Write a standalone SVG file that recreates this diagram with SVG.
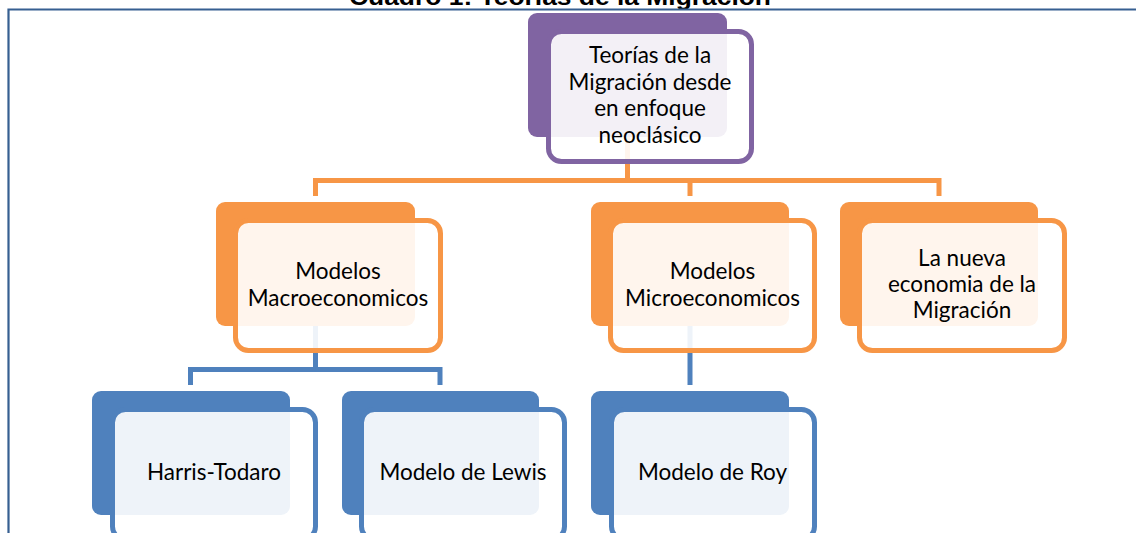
<svg xmlns="http://www.w3.org/2000/svg" width="1136" height="533" viewBox="0 0 1136 533">
<style>
.t{font-family:Lato,"Open Sans","Liberation Sans",sans-serif;font-size:22.5px;fill:#000;text-anchor:middle}
.title{font-family:"Liberation Sans",Arial,sans-serif;font-weight:bold;font-size:24px;fill:#000;text-anchor:middle}
.bp{fill:#8064A2}.fp{fill:#fff;fill-opacity:0.9;stroke:#8064A2;stroke-width:5}
.bo{fill:#F79646}.fo{fill:#fff;fill-opacity:0.9;stroke:#F79646;stroke-width:5}
.bb{fill:#4F81BD}.fb{fill:#fff;fill-opacity:0.9;stroke:#4F81BD;stroke-width:5}
.co{fill:none;stroke:#F79646;stroke-width:5}
.cb{fill:none;stroke:#4F81BD;stroke-width:5}
</style>
<rect width="1136" height="533" fill="#fff"/>
<text class="title" x="560" y="5" textLength="422" lengthAdjust="spacingAndGlyphs">Cuadro 1: Teorías de la Migración</text>
<path d="M8.5 533 V9.5 H1136" fill="none" stroke="#365F91" stroke-width="2.2"/>
<g id="connectors">
<path class="co" d="M627.5 137 V180.5 H315.5 V196"/>
<path class="co" d="M627.5 180.5 H690 V196"/>
<path class="co" d="M690 180.5 H939 V196"/>
<path class="cb" d="M315.5 326 V369.5 H190.5 V385"/>
<path class="cb" d="M315.5 369.5 H440 V385"/>
<path class="cb" d="M690 326 V385"/>
</g>
<g id="n-teorias">
<rect class="bp" x="528" y="13" width="199" height="124" rx="9"/>
<rect class="fp" x="548.5" y="31.5" width="203" height="130" rx="13"/>
<text class="t" x="650" y="63">Teorías de la</text>
<text class="t" x="650" y="89.5">Migración desde</text>
<text class="t" x="650" y="116">en enfoque</text>
<text class="t" x="650" y="142.5">neoclásico</text>
</g>
<g id="n-macro">
<rect class="bo" x="216" y="202" width="199" height="124" rx="9"/>
<rect class="fo" x="235.5" y="220.5" width="205" height="130" rx="13"/>
<text class="t" x="338" y="279">Modelos</text>
<text class="t" x="338" y="306">Macroeconomicos</text>
</g>
<g id="n-micro">
<rect class="bo" x="591" y="202" width="198" height="124" rx="9"/>
<rect class="fo" x="610.5" y="220.5" width="204" height="130" rx="13"/>
<text class="t" x="712.5" y="279">Modelos</text>
<text class="t" x="712.5" y="306">Microeconomicos</text>
</g>
<g id="n-nueva">
<rect class="bo" x="840" y="202" width="198" height="124" rx="9"/>
<rect class="fo" x="859.5" y="220.5" width="205" height="130" rx="13"/>
<text class="t" x="962" y="266">La nueva</text>
<text class="t" x="962" y="292">economia de la</text>
<text class="t" x="962" y="318">Migración</text>
</g>
<g id="n-harris">
<rect class="bb" x="92" y="391" width="198" height="124" rx="9"/>
<rect class="fb" x="112.5" y="409.5" width="203" height="130" rx="13"/>
<text class="t" x="214" y="480">Harris-Todaro</text>
</g>
<g id="n-lewis">
<rect class="bb" x="342" y="391" width="197" height="124" rx="9"/>
<rect class="fb" x="361.5" y="409.5" width="203" height="130" rx="13"/>
<text class="t" x="463" y="480">Modelo de Lewis</text>
</g>
<g id="n-roy">
<rect class="bb" x="591" y="391" width="198" height="124" rx="9"/>
<rect class="fb" x="611.5" y="409.5" width="203" height="130" rx="13"/>
<text class="t" x="712.5" y="480">Modelo de Roy</text>
</g>
</svg>
